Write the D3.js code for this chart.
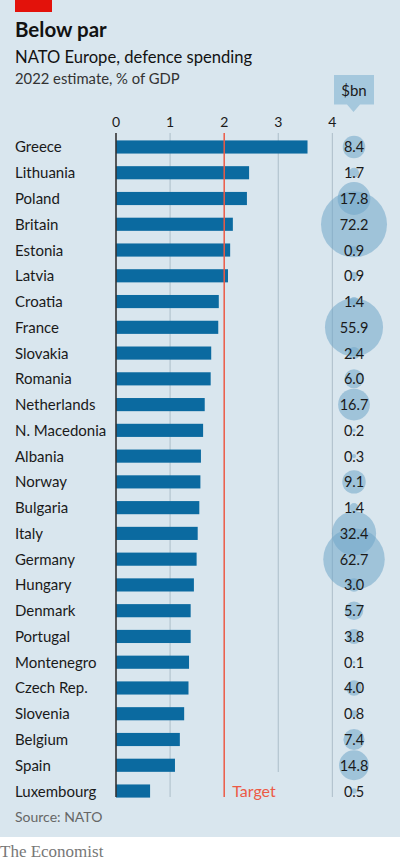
<!DOCTYPE html>
<html><head><meta charset="utf-8">
<script src="https://cdn.jsdelivr.net/npm/d3@7"></script>
<style>
html,body{margin:0;padding:0;background:#fff;}
svg{display:block;font-family:"Lato","Open Sans",sans-serif;}
</style></head>
<body>
<svg id="chart" width="400" height="861"></svg>
<script>
const countries = ["Greece","Lithuania","Poland","Britain","Estonia","Latvia","Croatia","France","Slovakia","Romania","Netherlands","N. Macedonia","Albania","Norway","Bulgaria","Italy","Germany","Hungary","Denmark","Portugal","Montenegro","Czech Rep.","Slovenia","Belgium","Spain","Luxembourg"];
const gdpShare = [3.54,2.46,2.42,2.16,2.11,2.07,1.90,1.89,1.76,1.75,1.64,1.61,1.57,1.56,1.54,1.51,1.49,1.44,1.38,1.38,1.35,1.34,1.26,1.18,1.09,0.63];
const spendBn = [8.4,1.7,17.8,72.2,0.9,0.9,1.4,55.9,2.4,6.0,16.7,0.2,0.3,9.1,1.4,32.4,62.7,3.0,5.7,3.8,0.1,4.0,0.8,7.4,14.8,0.5];
const xTicks = [0,1,2,3,4];
const target = 2;

const svg = d3.select("#chart");
const W = 400, H = 861;

svg.append("rect").attr("x",0).attr("y",0).attr("width",W).attr("height",837).attr("fill","#d9e6ee");
svg.append("rect").attr("x",15).attr("y",0).attr("width",37).attr("height",12).attr("fill","#e3120b");

svg.append("text").attr("x",15).attr("y",37).attr("font-size",20.5).attr("font-weight",700).attr("fill","#121212").text("Below par");
svg.append("text").attr("x",15).attr("y",63).attr("font-size",16.6).attr("fill","#121212").text("NATO Europe, defence spending");
svg.append("text").attr("x",15).attr("y",84).attr("font-size",14.8).attr("fill","#333").text("2022 estimate, % of GDP");

const x = d3.scaleLinear().domain([0,4]).range([116,332.4]);
const y = d3.scaleBand().domain(countries).range([134.1,803.9]).paddingInner(0.49).paddingOuter(0.245);
const r = d3.scaleSqrt().domain([0,72.2]).range([0,33]);

const gridTop = 133, gridBottom = 797;

// gridlines
const grid = svg.append("g");
xTicks.filter(d=>d!==0 && d!==target).forEach(d=>{
  grid.append("line").attr("x1",x(d)).attr("x2",x(d)).attr("y1",gridTop)
    .attr("y2", d===3 ? 772 : gridBottom).attr("stroke","#b4c4cf").attr("stroke-width",1.2);
});

// tick labels
svg.append("g").selectAll("text").data(xTicks).join("text")
  .attr("x",d=>x(d)).attr("y",127).attr("text-anchor","middle").attr("font-size",14).attr("fill","#1a1a1a").text(d=>d);

// circles
svg.append("g").selectAll("circle").data(spendBn).join("circle")
  .attr("cx",354).attr("cy",(d,i)=>y(countries[i])+y.bandwidth()/2).attr("r",d=>r(d))
  .attr("fill","#6fa5c8").attr("fill-opacity",0.55);

// bars
svg.append("g").selectAll("rect").data(gdpShare).join("rect")
  .attr("x",x(0)).attr("y",(d,i)=>y(countries[i])).attr("width",d=>x(d)-x(0)).attr("height",y.bandwidth())
  .attr("fill","#0b6aa0");

// target line
svg.append("line").attr("x1",x(target)).attr("x2",x(target)).attr("y1",gridTop).attr("y2",gridBottom)
  .attr("stroke","#ec5a45").attr("stroke-width",1.5);
svg.append("text").attr("x",x(target)+8).attr("y",797).attr("font-size",16).attr("fill","#ec5a45").text("Target");

// zero line
svg.append("line").attr("x1",x(0)).attr("x2",x(0)).attr("y1",gridTop).attr("y2",gridBottom)
  .attr("stroke","#333").attr("stroke-width",1.6);

// country labels
svg.append("g").selectAll("text").data(countries).join("text")
  .attr("x",15).attr("y",d=>y(d)+y.bandwidth()/2+5.5).attr("font-size",15).attr("fill","#1a1a1a").text(d=>d);

// value labels
svg.append("g").selectAll("text").data(spendBn).join("text")
  .attr("x",354).attr("y",(d,i)=>y(countries[i])+y.bandwidth()/2+5.5).attr("text-anchor","middle")
  .attr("font-size",14.5).attr("fill","#1a1a1a").text(d=>d.toFixed(1));

// $bn callout
svg.append("path").attr("d","M334,75 H374 V104.5 H360 L353.5,112 L347,104.5 H334 Z").attr("fill","#a5c8dd");
svg.append("text").attr("x",354).attr("y",96).attr("text-anchor","middle").attr("font-size",15).attr("fill","#1a1a1a").text("$bn");

svg.append("text").attr("x",15).attr("y",822).attr("font-size",14).attr("fill","#666").text("Source: NATO");
svg.append("text").attr("x",0).attr("y",857).attr("font-size",17).attr("font-family","'Liberation Serif','DejaVu Serif',serif").attr("fill","#777").text("The Economist");
</script>
</body></html>
